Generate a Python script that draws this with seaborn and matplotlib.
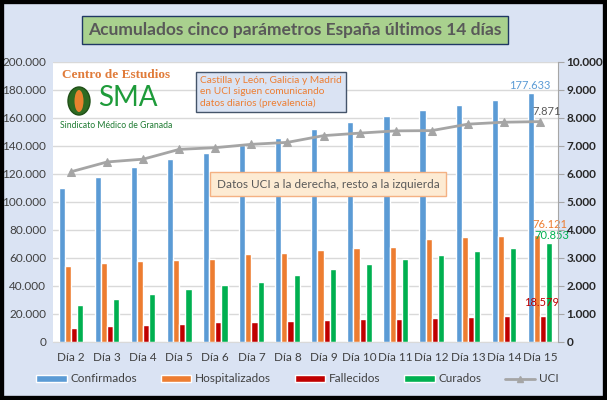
import numpy as np
import pandas as pd
import matplotlib
matplotlib.use("Agg")
import matplotlib.pyplot as plt
import seaborn as sns
from matplotlib.patches import Rectangle, Ellipse, Patch
from matplotlib.lines import Line2D

# Datos
dias = ["Día 2", "Día 3", "Día 4", "Día 5", "Día 6", "Día 7", "Día 8",
        "Día 9", "Día 10", "Día 11", "Día 12", "Día 13", "Día 14", "Día 15"]
confirmados = [110000, 118000, 125000, 131000, 135000, 141000, 146000,
               152000, 157000, 161500, 166000, 169500, 172500, 177633]
hospitalizados = [54500, 56500, 58000, 58500, 59000, 63000, 63500,
                  66000, 67500, 68000, 73500, 75000, 75500, 76121]
fallecidos = [10000, 11500, 12000, 13000, 14000, 14500, 15000,
              16000, 16500, 16500, 17000, 18000, 18500, 18579]
curados = [26500, 30500, 34500, 38000, 40500, 43000, 48000,
           52500, 56000, 59000, 62000, 65000, 67000, 70853]
uci = [6080, 6430, 6530, 6880, 6940, 7060, 7130,
       7370, 7460, 7540, 7550, 7780, 7850, 7871]

series = ["Confirmados", "Hospitalizados", "Fallecidos", "Curados"]
colores = ["#5b9bd5", "#ed7d31", "#c00000", "#00b050"]
gris = "#a5a5a5"
fondo = "#dae3f3"

df = pd.DataFrame({
    "dia": dias * 4,
    "serie": np.repeat(series, len(dias)),
    "valor": confirmados + hospitalizados + fallecidos + curados,
})

sns.set_style("white")
plt.rcParams["font.family"] = ["Lato", "DejaVu Sans"]

fig = plt.figure(figsize=(6.07, 4.0), dpi=100, facecolor=fondo)
ax = fig.add_axes([53 / 607, 58 / 400, 505 / 607, 280 / 400])
ax.set_facecolor("white")

sns.barplot(data=df, x="dia", y="valor", hue="serie", hue_order=series,
            palette=colores, width=0.68, saturation=1, ax=ax, legend=False)
ax.set_ylim(0, 200000)
ax.set_yticks(range(0, 200001, 20000))
ax.set_yticklabels([f"{v:,}".replace(",", ".") for v in range(0, 200001, 20000)],
                   color="#404040", fontsize=8.5)
ax.set_xlabel("")
ax.set_ylabel("")
ax.tick_params(axis="x", length=0, labelsize=8.5, labelcolor="#404040", pad=7)
ax.tick_params(axis="y", length=0, pad=5)
ax.yaxis.grid(True, color="#d9d9d9", linewidth=1)
ax.set_axisbelow(True)
for s in ["top", "left", "right"]:
    ax.spines[s].set_visible(False)
ax.spines["bottom"].set_color("#d9d9d9")

ax2 = ax.twinx()
x = np.arange(len(dias))
sns.lineplot(x=x, y=uci, ax=ax2, color=gris, linewidth=2, marker="^",
             markersize=6, markeredgecolor=gris, label="UCI", legend=False)
ax2.set_ylim(0, 10000)
ax2.set_yticks(range(0, 10001, 1000))
ax2.set_yticklabels([f"{v:,}".replace(",", ".") for v in range(0, 10001, 1000)],
                    color="#262626", fontsize=8.5, fontweight="bold")
ax2.tick_params(axis="y", length=4, color="#a6a6a6", pad=2)
for s in ["top", "left", "bottom"]:
    ax2.spines[s].set_visible(False)
ax2.spines["right"].set_color("#a6a6a6")
ax.set_xlim(-0.5, len(dias) - 0.5)

# Etiquetas del ultimo dia
bw = 0.68 / 4
i = len(dias) - 1
def fmt(v):
    return f"{v:,}".replace(",", ".")
ax.annotate(fmt(confirmados[-1]), (i - 1.5 * bw, confirmados[-1]), xytext=(-1, 2),
            textcoords="offset points", ha="center", va="bottom",
            color="#5b9bd5", fontsize=8)
ax2.annotate(fmt(uci[-1]), (i, uci[-1]), xytext=(5, 3),
             textcoords="offset points", ha="center", va="bottom",
             color="#595959", fontsize=8)
ax.annotate(fmt(hospitalizados[-1]), (i - 0.5 * bw, hospitalizados[-1]), xytext=(9, 4),
            textcoords="offset points", ha="center", va="bottom",
            color="#ed7d31", fontsize=8)
ax.annotate(fmt(curados[-1]), (i + 1.5 * bw, curados[-1]), xytext=(2, 1),
            textcoords="offset points", ha="center", va="bottom",
            color="#00b050", fontsize=8)
ax.annotate(fmt(fallecidos[-1]), (i + 0.5 * bw, fallecidos[-1]), xytext=(-1, 6),
            textcoords="offset points", ha="center", va="bottom",
            color="#c00000", fontsize=8)

# Titulo con caja verde
fig.text(295 / 607, 1 - 30 / 400, "Acumulados cinco parámetros España últimos 14 días",
         ha="center", va="center", fontsize=12.5, fontweight="bold", color="#595959",
         bbox=dict(boxstyle="square,pad=0.35", facecolor="#a9d18e",
                   edgecolor="#203864", linewidth=1))

# Cuadros de texto
fig.text(200 / 607, 1 - 92 / 400,
         "Castilla y León, Galicia y Madrid\nen UCI siguen comunicando\ndatos diarios (prevalencia)",
         ha="left", va="center", fontsize=7.3, color="#ed7d31", linespacing=1.3,
         bbox=dict(boxstyle="square,pad=0.4", facecolor=fondo,
                   edgecolor="#44546a", linewidth=1))
fig.text(328 / 607, 1 - 184 / 400, "Datos UCI a la derecha, resto a la izquierda",
         ha="center", va="center", fontsize=8.5, color="#595959",
         bbox=dict(boxstyle="square,pad=0.55", facecolor="#fdebd3",
                   edgecolor="#f4b183", linewidth=1))

# Logo aproximado
fig.text(116 / 607, 1 - 75 / 400, "Centro de Estudios", ha="center", va="center",
         fontsize=9.5, fontweight="bold", color="#e07b39", family="Liberation Serif")
fig.patches.append(Ellipse((79 / 607, 1 - 101 / 400), 22 / 607, 28 / 400,
                           transform=fig.transFigure, facecolor="#2e6b22",
                           edgecolor="#1f4f17", zorder=5))
fig.patches.append(Ellipse((79 / 607, 1 - 101 / 400), 9 / 607, 22 / 400,
                           transform=fig.transFigure, facecolor="#e8822e",
                           edgecolor="none", zorder=6))
fig.text(128 / 607, 1 - 98 / 400, "SMA", ha="center", va="center",
         fontsize=20, color="#1e9b3a", zorder=7)
fig.text(116 / 607, 1 - 126 / 400, "Sindicato Médico de Granada", ha="center",
         va="center", fontsize=6.2, color="#1e7b32")

# Leyenda
handles = [Patch(facecolor=c, label=s) for s, c in zip(series, colores)]
handles.append(Line2D([], [], color=gris, linewidth=2, marker="^",
                      markersize=5, label="UCI"))
fig.legend(handles=handles, loc="center", bbox_to_anchor=(0.49, 1 - 379 / 400),
           ncol=5, frameon=False, fontsize=8.5, handlelength=2.6, handleheight=0.5,
           columnspacing=2.0, handletextpad=0.3, labelcolor="#404040")

# Marco negro exterior
fig.patches.append(Rectangle((0, 0), 1, 1, transform=fig.transFigure,
                             fill=False, edgecolor="black", linewidth=6, zorder=10))

fig.savefig("out.png", dpi=100, facecolor=fondo)
